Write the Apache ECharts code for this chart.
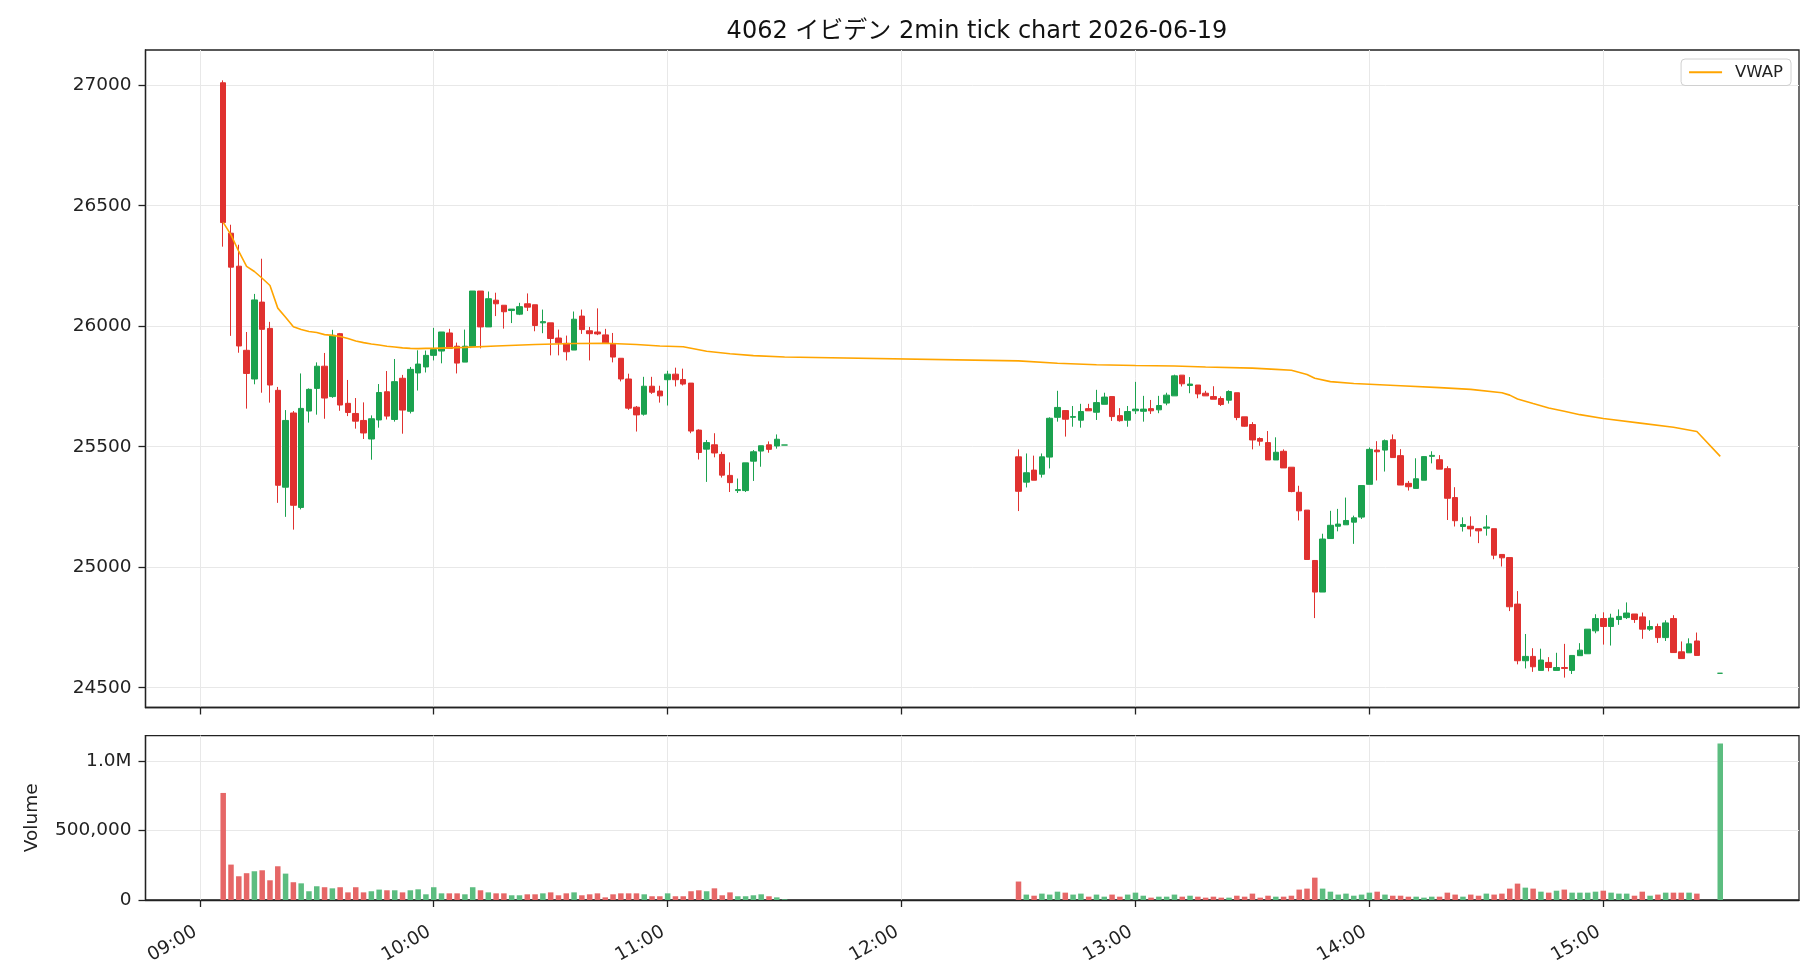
<!DOCTYPE html>
<html><head><meta charset="utf-8">
<script src="https://cdn.jsdelivr.net/npm/echarts@6/dist/echarts.min.js"></script>
<style>html,body{margin:0;padding:0;background:#fff}#c{width:1820px;height:980px}</style>
</head><body><div id="c"></div>
<script>
const times = [
'09:06','09:08','09:10','09:12','09:14','09:16','09:18','09:20','09:22','09:24',
'09:26','09:28','09:30','09:32','09:34','09:36','09:38','09:40','09:42','09:44',
'09:46','09:48','09:50','09:52','09:54','09:56','09:58','10:00','10:02','10:04',
'10:06','10:08','10:10','10:12','10:14','10:16','10:18','10:20','10:22','10:24',
'10:26','10:28','10:30','10:32','10:34','10:36','10:38','10:40','10:42','10:44',
'10:46','10:48','10:50','10:52','10:54','10:56','10:58','11:00','11:02','11:04',
'11:06','11:08','11:10','11:12','11:14','11:16','11:18','11:20','11:22','11:24',
'11:26','11:28','11:30',
'12:30','12:32','12:34','12:36','12:38','12:40','12:42','12:44','12:46','12:48',
'12:50','12:52','12:54','12:56','12:58','13:00','13:02','13:04','13:06','13:08',
'13:10','13:12','13:14','13:16','13:18','13:20','13:22','13:24','13:26','13:28',
'13:30','13:32','13:34','13:36','13:38','13:40','13:42','13:44','13:46','13:48',
'13:50','13:52','13:54','13:56','13:58','14:00','14:02','14:04','14:06','14:08',
'14:10','14:12','14:14','14:16','14:18','14:20','14:22','14:24','14:26','14:28',
'14:30','14:32','14:34','14:36','14:38','14:40','14:42','14:44','14:46','14:48',
'14:50','14:52','14:54','14:56','14:58','15:00','15:02','15:04','15:06','15:08',
'15:10','15:12','15:14','15:16','15:18','15:20','15:22','15:24','15:30'];

const open = [
27010,26386,26249,25900,25781,26100,25991,25734,25332,25640,
25248,25648,25742,25834,25708,25969,25680,25638,25609,25532,
25611,25728,25613,25784,25647,25806,25831,25879,25897,25972,
25917,25851,25917,26146,25997,26108,26087,26065,26050,26093,
26089,26014,26014,25951,25929,25901,26042,25981,25976,25964,
25925,25867,25781,25664,25635,25751,25731,25778,25801,25779,
25764,25569,25490,25508,25468,25381,25318,25318,25440,25482,
25508,25503,25507,
25458,25353,25403,25386,25457,25622,25650,25622,25610,25658,
25643,25676,25708,25629,25610,25649,25647,25658,25653,25681,
25711,25797,25754,25756,25722,25708,25700,25693,25724,25624,
25592,25534,25517,25445,25481,25415,25311,25237,25028,24897,
25119,25170,25176,25187,25208,25344,25486,25486,25529,25463,
25348,25327,25361,25460,25446,25409,25289,25169,25170,25160,
25162,25160,25053,25040,24847,24612,24630,24572,24605,24572,
24584,24572,24633,24641,24736,24787,24754,24783,24791,24806,
24794,24743,24754,24708,24787,24649,24645,24694,24560];

const high = [
27020,26421,26338,25976,26134,26280,26018,25748,25652,25648,
25804,25742,25850,25889,25985,25972,25777,25702,25684,25630,
25760,25814,25864,25798,25831,25900,25899,25993,25976,25989,
25932,25986,26146,26146,26144,26139,26087,26071,26097,26136,
26089,26069,26014,25986,25961,26061,26069,25997,26074,25989,
25972,25867,25803,25669,25790,25790,25753,25815,25828,25824,
25764,25572,25528,25556,25479,25435,25368,25433,25486,25504,
25522,25551,25507,
25489,25472,25463,25472,25622,25732,25650,25669,25678,25678,
25736,25724,25708,25660,25669,25769,25711,25694,25711,25724,
25799,25797,25789,25756,25732,25751,25709,25734,25724,25624,
25602,25539,25565,25539,25489,25415,25338,25237,25030,25139,
25234,25242,25289,25214,25339,25497,25523,25530,25551,25490,
25358,25452,25461,25481,25465,25419,25332,25207,25211,25160,
25216,25160,25053,25040,24901,24723,24664,24662,24627,24645,
24682,24634,24685,24743,24805,24813,24807,24825,24854,24806,
24812,24780,24766,24780,24801,24692,24705,24729,24560];

const low = [
26330,25960,25890,25658,25759,25724,25683,25267,25209,25156,
25240,25600,25633,25616,25703,25649,25627,25575,25532,25446,
25579,25613,25604,25554,25638,25733,25808,25858,25846,25906,
25804,25851,25917,25908,25997,26042,25990,26013,26046,26063,
25979,25971,25879,25879,25858,25901,25968,25858,25963,25931,
25850,25771,25653,25563,25629,25719,25683,25671,25750,25754,
25556,25447,25354,25456,25372,25312,25308,25312,25358,25417,
25475,25492,25507,
25233,25331,25361,25372,25410,25604,25542,25583,25579,25649,
25611,25676,25607,25604,25583,25636,25604,25636,25639,25672,
25711,25750,25722,25701,25711,25697,25669,25679,25610,25583,
25489,25504,25445,25445,25412,25311,25194,25032,24789,24897,
25119,25149,25176,25097,25200,25344,25360,25397,25455,25341,
25318,25327,25361,25431,25407,25196,25169,25148,25127,25100,
25131,25033,25003,24818,24597,24580,24566,24572,24568,24572,
24542,24557,24633,24641,24726,24679,24675,24761,24785,24769,
24703,24736,24686,24694,24646,24621,24645,24634,24560];

const close = [
26430,26245,25918,25804,26109,25987,25756,25340,25609,25257,
25659,25738,25834,25702,25962,25673,25642,25606,25557,25616,
25725,25627,25770,25652,25821,25843,25879,25903,25976,25908,
25847,25917,26146,25997,26114,26093,26060,26071,26081,26079,
26003,26019,25949,25931,25894,26029,25986,25969,25968,25931,
25872,25781,25660,25632,25751,25726,25711,25801,25778,25760,
25565,25476,25517,25474,25382,25351,25322,25433,25479,25504,
25489,25531,25507,
25315,25392,25361,25458,25618,25663,25614,25625,25646,25649,
25683,25706,25625,25608,25646,25656,25656,25649,25671,25714,
25794,25761,25760,25719,25711,25697,25675,25729,25621,25585,
25528,25523,25445,25477,25412,25314,25234,25032,24897,25117,
25174,25179,25194,25205,25339,25489,25479,25525,25455,25341,
25334,25367,25459,25464,25407,25286,25193,25177,25159,25151,
25167,25050,25039,24836,24612,24630,24587,24615,24584,24584,
24580,24634,24656,24743,24787,24754,24789,24796,24810,24783,
24743,24754,24708,24769,24646,24621,24682,24634,24560];

const volume = [
771000,255000,171000,193000,207000,214000,142000,243000,190000,128000,
120000,63000,99000,92000,84000,92000,55000,92000,55000,63000,
75000,70000,70000,55000,70000,77000,41000,92000,48000,48000,
48000,41000,92000,70000,55000,48000,48000,34000,34000,41000,
41000,48000,55000,34000,48000,55000,34000,41000,48000,19000,
41000,48000,48000,48000,41000,27000,27000,48000,27000,27000,
63000,70000,63000,84000,34000,55000,27000,27000,34000,41000,
27000,19000,5000,
133000,39000,31000,46000,39000,60000,53000,39000,46000,24000,
39000,24000,39000,24000,39000,53000,31000,17000,24000,24000,
39000,24000,31000,24000,17000,24000,17000,17000,31000,24000,
46000,17000,31000,24000,24000,31000,75000,82000,161000,82000,
60000,39000,46000,31000,39000,53000,60000,39000,31000,31000,
24000,24000,17000,24000,24000,53000,39000,24000,39000,31000,
46000,39000,46000,82000,118000,89000,82000,60000,53000,67000,
75000,53000,53000,53000,60000,67000,53000,46000,46000,31000,
60000,31000,39000,53000,53000,53000,53000,46000,1128000];

const vwapTimes = ['09:06','09:08','09:10','09:12','09:14','09:16','09:18','09:20','09:22','09:24',
'09:26','09:28','09:30','09:32','09:34','09:36','09:38','09:40','09:42','09:44','09:46','09:48',
'09:50','09:52','09:54','09:56','09:58','10:00','10:08','10:16','10:26','10:36','10:44','10:52',
'10:58','11:04','11:10','11:16','11:22','11:30','12:30','12:40','12:50','13:00','13:10','13:18',
'13:30','13:36','13:40','13:44','13:46','13:50','13:56','14:00','14:08','14:18','14:26','14:34',
'14:36','14:38','14:42','14:46','14:50','14:54','15:00','15:10','15:18','15:24','15:30'];
const vwapValues = [26431,26379,26310,26248,26227,26199,26169,26075,26037,25998,
25986,25978,25974,25965,25962,25957,25949,25939,25932,25926,25922,25917,
25914,25910,25908,25907,25908,25908,25912,25918,25924,25928,25929,25924,
25918,25915,25896,25886,25878,25872,25856,25846,25840,25837,25835,25831,
25826,25821,25817,25800,25784,25770,25762,25759,25753,25745,25738,25724,
25714,25698,25679,25661,25647,25633,25617,25597,25581,25563,25460];

const priceTicks = [24500,25000,25500,26000,26500,27000];
const volumeTicks = [0,500000,1000000];
const hourTicks = ['09:00','10:00','11:00','12:00','13:00','14:00','15:00'];

const FONT = "'DejaVu Sans', 'Noto Sans CJK JP', sans-serif";
const UP = '#1ba24f', DOWN = '#e0312f';
const UPV = '#5cbd80', DOWNV = '#e66767';

function toMin(t){ const p=t.split(':'); return (parseInt(p[0],10)-9)*60+parseInt(p[1],10); }
function pad(n){ return (n<10?'0':'')+n; }
function fmtMin(v){ const h=9+Math.floor(v/60); const m=Math.round(v-(h-9)*60); return pad(h)+':'+pad(m); }

const xs = times.map(toMin);
const hourVals = hourTicks.map(toMin);
const candleData = xs.map((x,i)=>{
  const item = {value:[x, open[i], close[i], low[i], high[i]]};
  if (close[i] === open[i]) item.itemStyle = {color:UP, color0:UP, borderColor:UP, borderColor0:UP};
  return item;
});
const volData = xs.map((x,i)=>({value:[x, volume[i]], itemStyle:{color: close[i]>=open[i]?UPV:DOWNV}}));
const vwapData = vwapTimes.map((t,i)=>[toMin(t), vwapValues[i]]);

const chart = echarts.init(document.getElementById('c'), null, {renderer:'canvas'});
const gridLine = {show:true, lineStyle:{color:'#e8e8e8', width:1}};
const axisLineStyle = {show:true, onZero:false, lineStyle:{color:'#222', width:1.3}};
const tickStyle = {show:true, inside:false, length:7, lineStyle:{color:'#222', width:1.3}};
const labelStyle = {color:'#222', fontSize:18.5, fontFamily:FONT};

chart.setOption({
  animation:false,
  backgroundColor:'#fff',
  title:{text:'4062 イビデン 2min tick chart 2026-06-19', left:972, textAlign:'center', top:15,
    textStyle:{fontFamily:FONT, fontSize:24, fontWeight:'normal', color:'#111'}},
  legend:{data:[{name:'VWAP', icon:'rect'}], right:29, top:59, orient:'vertical',
    borderColor:'#d0d0d0', borderWidth:1, borderRadius:4, padding:[5,8,5,8],
    itemWidth:33, itemHeight:2, itemGap:4,
    textStyle:{fontFamily:FONT, fontSize:16.5, color:'#222', padding:[0,0,0,8]}},
  grid:[
    {left:145.5, top:50, width:1653.5, height:657.5, show:true, borderColor:'#222', borderWidth:1.3, containLabel:false},
    {left:145.5, top:735.6, width:1653.5, height:164.4, show:true, borderColor:'#222', borderWidth:1.3, containLabel:false}
  ],
  xAxis:[
    {type:'value', gridIndex:0, min:-13.93, max:410.2,
      axisLine:axisLineStyle, axisTick:Object.assign({customValues:hourVals}, tickStyle),
      axisLabel:{show:false, customValues:hourVals}, splitLine:gridLine},
    {type:'value', gridIndex:1, min:-13.93, max:410.2,
      axisLine:axisLineStyle, axisTick:Object.assign({customValues:hourVals}, tickStyle),
      axisLabel:Object.assign({customValues:hourVals, rotate:30, margin:28, padding:[0,5,0,0], formatter:fmtMin}, labelStyle),
      splitLine:gridLine}
  ],
  yAxis:[
    {type:'value', gridIndex:0, min:24418, max:27146, scale:true,
      axisLine:axisLineStyle, axisTick:Object.assign({customValues:priceTicks}, tickStyle),
      axisLabel:Object.assign({customValues:priceTicks, margin:14, formatter:v=>String(v)}, labelStyle),
      splitLine:gridLine},
    {type:'value', gridIndex:1, min:0, max:1184000,
      name:'Volume', nameLocation:'middle', nameGap:104, nameRotate:90,
      nameTextStyle:{fontFamily:FONT, fontSize:18.5, color:'#222'},
      axisLine:axisLineStyle, axisTick:Object.assign({customValues:volumeTicks}, tickStyle),
      axisLabel:Object.assign({customValues:volumeTicks, margin:14,
        formatter:v=> v>=1000000 ? (v/1000000).toFixed(1)+'M' : v.toLocaleString('en-US')}, labelStyle),
      splitLine:gridLine}
  ],
  series:[
    {type:'candlestick', name:'price', xAxisIndex:0, yAxisIndex:0, data:candleData,
      encode:{x:0, y:[1,2,3,4]}, barWidth:6,
      itemStyle:{color:UP, color0:DOWN, borderColor:UP, borderColor0:DOWN, borderWidth:1}},
    {type:'line', name:'VWAP', xAxisIndex:0, yAxisIndex:0, data:vwapData, symbol:'none',
      lineStyle:{color:'#ffa500', width:1.6}, itemStyle:{color:'#ffa500'}, z:5},
    {type:'bar', name:'Volume', xAxisIndex:1, yAxisIndex:1, data:volData, barWidth:5.5}
  ]
});
</script></body></html>
